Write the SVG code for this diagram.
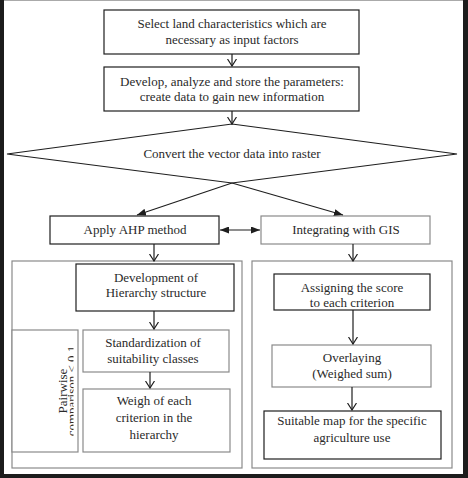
<svg xmlns="http://www.w3.org/2000/svg" width="468" height="478" viewBox="0 0 468 478" font-family="'Liberation Serif', 'Times New Roman', serif" font-size="13">
<style>
.b{fill:#fff;stroke:#1e1e1e;stroke-width:1.2}
.g{fill:#fff;stroke:#8a8a8a;stroke-width:1.2}
.c{fill:none;stroke:#8a8a8a;stroke-width:1.2}
text{font-family:'Liberation Serif','Times New Roman',serif;font-size:13px;fill:#2a2a2a;text-anchor:middle}
.ln{stroke:#1e1e1e;stroke-width:1.2;fill:none}
</style>
<defs>
<marker id="open" viewBox="0 0 8 10" refX="7.5" refY="5" markerWidth="8" markerHeight="10" markerUnits="userSpaceOnUse" orient="auto">
<path d="M0.5,0.5 L7.5,5 L0.5,9.5" fill="none" stroke="#1e1e1e" stroke-width="1.2"/>
</marker>
<marker id="fill" viewBox="0 0 9 7" refX="9" refY="3.5" markerWidth="9" markerHeight="7" markerUnits="userSpaceOnUse" orient="auto-start-reverse">
<path d="M0,0 L9,3.5 L0,7 z" fill="#1e1e1e"/>
</marker>
<clipPath id="pwclip"><rect x="12" y="330" width="61.5" height="122"/></clipPath>
</defs>
<rect x="0" y="0" width="468" height="478" fill="#1c1c1c"/>
<rect x="4" y="0" width="459" height="474" fill="#fff"/>
<line x1="4" y1="0.5" x2="463" y2="0.5" stroke="#aaa" stroke-width="1"/>

<g id="containers">
<rect id="ahp-container" class="c" x="12" y="261" width="230" height="207"/>
<rect id="gis-container" class="c" x="252" y="261" width="200" height="207"/>
</g>

<g id="n-select">
<rect class="b" x="104" y="10" width="255" height="44"/>
<text x="232" y="28" font-family="Liberation Serif">Select land characteristics which are</text>
<text x="232" y="44">necessary as input factors</text>
</g>
<g id="n-develop">
<rect class="b" x="104" y="67" width="255" height="44"/>
<text x="232" y="86">Develop, analyze and store the parameters:</text>
<text x="232" y="101">create data to gain new information</text>
</g>
<g id="n-convert">
<polygon class="b" points="232,124 457,154 232,183 7,154"/>
<text x="232" y="158">Convert the vector data into raster</text>
</g>
<g id="n-ahp">
<rect class="b" x="50" y="216" width="169" height="28"/>
<text x="135" y="234">Apply AHP method</text>
</g>
<g id="n-gis">
<rect class="g" x="261" y="216" width="169" height="28"/>
<text x="346" y="234">Integrating with GIS</text>
</g>
<g id="n-hierarchy">
<rect class="b" x="76" y="264" width="158" height="47"/>
<text x="156" y="282">Development of</text>
<text x="156" y="297">Hierarchy structure</text>
</g>
<g id="n-standard">
<rect class="g" x="83" y="330" width="146" height="42"/>
<text x="153" y="347">Standardization of</text>
<text x="153" y="363">suitability classes</text>
</g>
<g id="n-weigh">
<rect class="g" x="83" y="389" width="147" height="63"/>
<text x="154" y="405">Weigh of each</text>
<text x="154" y="422">criterion in the</text>
<text x="154" y="439">hierarchy</text>
</g>
<g id="n-pairwise">
<rect class="g" x="12" y="330" width="66" height="122"/>
<g clip-path="url(#pwclip)">
<g transform="translate(0,391) rotate(-90)">
<text x="0" y="67">Pairwise</text>
<text x="0" y="76">comparison &lt; 0.1</text>
</g>
</g>
</g>
<g id="n-assign">
<rect class="b" x="274" y="274" width="156" height="36"/>
<text x="352" y="292">Assigning the score</text>
<text x="352" y="307">to each criterion</text>
</g>
<g id="n-overlay">
<rect class="g" x="272" y="345" width="159" height="42"/>
<text x="352" y="362">Overlaying</text>
<text x="352" y="378">(Weighed sum)</text>
</g>
<g id="n-suitable">
<rect class="b" x="264" y="411" width="177" height="48"/>
<text x="352" y="425">Suitable map for the specific</text>
<text x="352" y="442">agriculture use</text>
</g>

<g id="connectors">
<line class="ln" x1="232" y1="54" x2="232" y2="66" marker-end="url(#open)"/>
<line class="ln" x1="232" y1="111" x2="232" y2="124" marker-end="url(#open)"/>
<line class="ln" x1="232" y1="183" x2="137" y2="215" marker-end="url(#fill)"/>
<line class="ln" x1="232" y1="183" x2="343" y2="215" marker-end="url(#fill)"/>
<line class="ln" x1="220" y1="230" x2="260" y2="230" marker-start="url(#fill)" marker-end="url(#fill)"/>
<line class="ln" x1="154" y1="244" x2="154" y2="261" marker-end="url(#open)"/>
<line class="ln" x1="154" y1="311" x2="154" y2="329" marker-end="url(#open)"/>
<line class="ln" x1="150" y1="372" x2="150" y2="388" marker-end="url(#open)"/>
<line class="ln" x1="353" y1="244" x2="353" y2="261" marker-end="url(#open)"/>
<line class="ln" x1="353" y1="310" x2="353" y2="344" marker-end="url(#open)"/>
<line class="ln" x1="352" y1="387" x2="352" y2="410" marker-end="url(#open)"/>
</g>
</svg>
